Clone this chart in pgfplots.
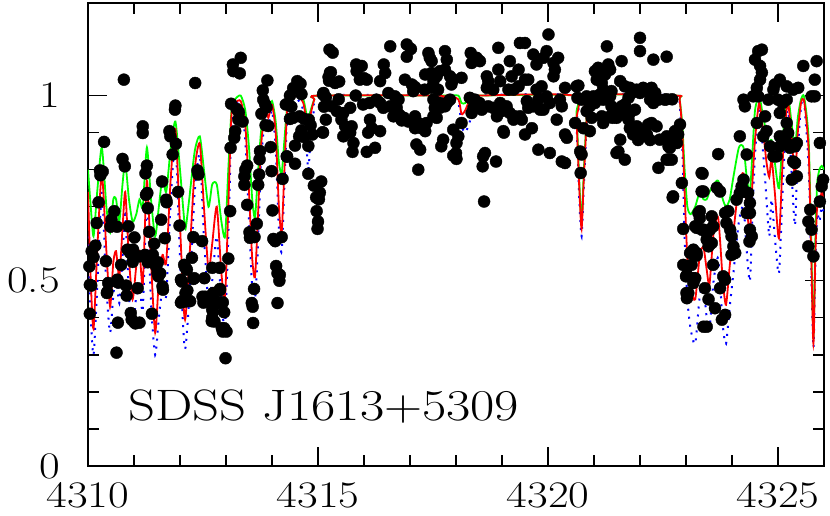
\documentclass[border=0pt]{standalone}
\usepackage{fontspec}
\setmainfont{Latin Modern Roman}[FakeStretch=1.2]
\usepackage{pgfplots}
\usepackage{pgfplotstable}
\pgfplotsset{compat=1.18}

% model curves: x, red model, green model, blue model
\pgfplotstableread{
x red green blue
4310.00 0.74 0.80 0.62
4310.06 0.50 0.70 0.40
4310.12 0.37 0.62 0.30
4310.20 0.58 0.74 0.48
4310.30 0.79 0.86 0.74
4310.40 0.58 0.70 0.48
4310.48 0.43 0.63 0.36
4310.55 0.55 0.72 0.46
4310.61 0.58 0.72 0.52
4310.68 0.51 0.66 0.44
4310.75 0.64 0.76 0.56
4310.81 0.74 0.82 0.68
4310.89 0.56 0.72 0.46
4310.97 0.45 0.66 0.37
4311.05 0.54 0.68 0.46
4311.12 0.58 0.72 0.50
4311.19 0.49 0.70 0.42
4311.28 0.77 0.86 0.72
4311.37 0.55 0.72 0.44
4311.46 0.36 0.62 0.30
4311.54 0.50 0.70 0.40
4311.62 0.57 0.78 0.48
4311.70 0.55 0.74 0.46
4311.80 0.78 0.86 0.72
4311.90 0.91 0.93 0.88
4312.00 0.65 0.80 0.56
4312.08 0.43 0.68 0.35
4312.12 0.40 0.64 0.32
4312.20 0.55 0.72 0.45
4312.32 0.80 0.85 0.74
4312.43 0.87 0.89 0.84
4312.52 0.70 0.80 0.62
4312.62 0.53 0.70 0.44
4312.70 0.60 0.76 0.50
4312.80 0.70 0.76 0.62
4312.90 0.52 0.66 0.44
4312.98 0.46 0.62 0.38
4313.05 0.70 0.80 0.62
4313.12 0.95 0.96 0.92
4313.20 0.98 0.99 0.97
4313.32 0.985 1.00 0.98
4313.42 0.92 0.96 0.88
4313.50 0.74 0.86 0.66
4313.57 0.56 0.72 0.48
4313.63 0.51 0.67 0.45
4313.69 0.66 0.78 0.58
4313.76 0.86 0.90 0.82
4313.85 0.96 0.97 0.94
4313.92 0.94 0.96 0.92
4314.00 0.975 0.985 0.96
4314.08 0.90 0.93 0.86
4314.15 0.70 0.82 0.64
4314.21 0.63 0.79 0.58
4314.27 0.80 0.88 0.76
4314.33 0.96 0.97 0.94
4314.42 0.99 0.995 0.98
4314.55 1.0 1.0 0.99
4314.68 0.98 0.99 0.96
4314.75 0.93 0.95 0.86
4314.79 0.915 0.94 0.80
4314.84 0.95 0.96 0.88
4314.92 0.99 0.99 0.97
4315.00 1.0 1.0 1.0
4317.60 1.0 1.0 1.0
4317.70 0.99 1.0 0.99
4317.80 1.0 1.0 1.0
4318.05 0.99 1.0 0.98
4318.12 0.95 0.98 0.92
4318.20 0.96 0.98 0.90
4318.30 0.99 1.0 0.93
4318.38 1.0 1.0 0.98
4318.45 1.0 1.0 1.0
4320.55 1.0 1.0 1.0
4320.62 0.93 0.95 0.92
4320.68 0.75 0.77 0.72
4320.73 0.64 0.66 0.62
4320.78 0.78 0.80 0.76
4320.84 0.93 0.94 0.92
4320.90 1.0 1.0 1.0
4322.78 1.0 1.0 1.0
4322.86 0.99 0.99 0.98
4322.92 0.90 0.92 0.86
4322.97 0.74 0.80 0.62
4323.03 0.56 0.70 0.45
4323.10 0.48 0.68 0.37
4323.20 0.45 0.70 0.33
4323.30 0.57 0.74 0.46
4323.38 0.59 0.72 0.48
4323.45 0.53 0.72 0.40
4323.51 0.49 0.74 0.37
4323.60 0.63 0.76 0.50
4323.70 0.67 0.77 0.56
4323.80 0.50 0.72 0.38
4323.87 0.435 0.70 0.33
4323.95 0.54 0.72 0.43
4324.03 0.63 0.78 0.52
4324.15 0.76 0.86 0.66
4324.25 0.79 0.86 0.70
4324.32 0.70 0.78 0.58
4324.39 0.63 0.74 0.50
4324.45 0.78 0.86 0.70
4324.50 0.88 0.96 0.84
4324.59 0.98 1.00 0.97
4324.68 0.90 0.94 0.84
4324.75 0.82 0.90 0.72
4324.81 0.78 0.87 0.62
4324.86 0.83 0.88 0.72
4324.93 0.74 0.82 0.62
4325.02 0.615 0.75 0.52
4325.10 0.82 0.88 0.74
4325.16 0.93 0.96 0.90
4325.22 0.98 1.00 0.97
4325.30 0.88 0.92 0.78
4325.37 0.78 0.86 0.65
4325.43 0.90 0.94 0.85
4325.50 0.98 0.99 0.97
4325.56 0.99 1.00 0.99
4325.62 0.93 0.95 0.90
4325.67 0.84 0.87 0.80
4325.72 0.58 0.62 0.55
4325.77 0.33 0.35 0.32
4325.81 0.56 0.60 0.54
4325.85 0.70 0.76 0.68
4325.90 0.70 0.80 0.66
4325.95 0.74 0.81 0.70
4326.00 0.71 0.80 0.68
}\models

% observed spectrum
\pgfplotstableread{
x y
4310.78 1.043
4312.33 1.034
4311.90 0.973
4311.89 0.962
4311.19 0.917
4311.19 0.899
4311.77 0.904
4311.79 0.890
4311.91 0.870
4311.84 0.841
4310.35 0.875
4310.75 0.829
4310.80 0.809
4310.26 0.798
4310.32 0.795
4310.27 0.785
4311.28 0.811
4311.25 0.790
4311.61 0.768
4312.38 0.798
4312.40 0.787
4310.23 0.712
4311.26 0.732
4311.29 0.737
4311.30 0.696
4311.70 0.719
4311.71 0.712
4311.96 0.740
4310.57 0.688
4310.19 0.656
4310.51 0.665
4310.49 0.646
4310.63 0.646
4310.88 0.647
4311.59 0.665
4311.99 0.649
4311.33 0.632
4311.01 0.617
4311.67 0.615
4312.29 0.618
4312.48 0.607
4310.16 0.595
4311.44 0.600
4310.86 0.584
4310.98 0.584
4310.92 0.575
4310.12 0.564
4311.12 0.566
4311.41 0.570
4310.39 0.553
4310.97 0.551
4312.26 0.562
4310.03 0.539
4311.44 0.549
4311.48 0.539
4310.72 0.543
4312.09 0.543
4312.12 0.535
4311.51 0.521
4311.53 0.512
4312.02 0.503
4312.31 0.507
4312.53 0.507
4310.64 0.503
4310.66 0.495
4310.07 0.487
4310.44 0.494
4310.83 0.487
4311.62 0.485
4311.63 0.476
4311.08 0.480
4310.41 0.467
4310.84 0.460
4312.12 0.467
4312.16 0.474
4312.02 0.441
4312.12 0.444
4312.16 0.446
4312.49 0.457
4312.51 0.441
4312.55 0.457
4312.70 0.422
4312.70 0.400
4312.69 0.391
4310.04 0.411
4310.93 0.413
4310.95 0.395
4311.00 0.389
4311.03 0.385
4311.39 0.411
4310.65 0.387
4310.62 0.306
4310.08 0.580
4310.04 0.489
4310.42 0.470
4310.62 0.498
4311.12 0.387
4311.57 0.520
4311.52 0.550
4311.24 0.570
4311.30 0.550
4312.04 0.498
4312.15 0.530
4312.04 0.445
4312.22 0.445
4312.29 0.505
4312.60 0.445
4312.72 0.417
4312.75 0.390
4312.83 0.440
4312.87 0.475
4312.92 0.440
4312.91 0.372
4312.96 0.372
4312.99 0.291
4312.70 0.535
4312.86 0.535
4313.05 0.560
4313.56 0.440
4313.59 0.386
4313.61 0.478
4314.09 0.540
4314.12 0.520
4314.12 0.440
4313.32 1.102
4313.15 1.084
4313.16 1.066
4313.30 1.060
4313.90 1.041
4313.80 1.014
4313.81 0.989
4313.11 0.978
4313.23 0.964
4313.28 0.955
4313.27 0.935
4313.36 0.930
4313.20 0.904
4313.18 0.886
4313.10 0.859
4313.77 0.951
4313.85 0.977
4313.88 0.968
4313.86 0.920
4313.92 0.918
4313.97 0.861
4313.74 0.850
4313.73 0.828
4313.99 0.796
4313.72 0.787
4313.70 0.759
4313.46 0.811
4313.42 0.800
4313.40 0.782
4313.40 0.759
4313.46 0.705
4313.09 0.688
4314.01 0.690
4313.67 0.654
4313.51 0.631
4313.52 0.616
4313.62 0.618
4314.03 0.613
4314.07 0.607
4314.21 0.618
4314.17 0.516
4314.16 0.500
4313.58 0.430
4312.87 0.478
4312.72 0.467
4312.79 0.445
4312.93 0.442
4312.96 0.415
4312.93 0.363
4313.01 0.363
4314.30 0.976
4314.39 1.000
4314.55 1.039
4314.62 1.032
4314.46 1.020
4314.64 1.004
4314.42 0.970
4314.39 0.937
4314.46 0.940
4314.60 0.944
4314.70 0.937
4314.80 0.935
4314.84 0.920
4314.64 0.906
4314.59 0.890
4314.70 0.888
4314.79 0.864
4314.88 0.895
4315.11 0.900
4315.17 0.935
4315.11 1.003
4315.17 0.995
4315.26 1.062
4315.25 1.124
4315.23 1.050
4315.13 0.970
4314.50 0.865
4314.50 0.816
4314.33 0.835
4314.79 0.789
4314.91 0.757
4315.07 0.768
4315.04 0.738
4314.96 0.725
4315.02 0.720
4314.97 0.688
4315.00 0.660
4314.99 0.640
4314.23 0.775
4314.32 0.836
4315.32 1.116
4315.28 1.063
4315.24 1.040
4315.37 1.034
4315.46 1.038
4315.45 0.990
4315.12 1.007
4315.30 0.971
4315.41 0.958
4315.55 0.953
4315.70 0.967
4315.10 0.901
4315.51 0.935
4315.59 0.917
4315.55 0.890
4315.70 0.900
4315.73 0.917
4315.77 0.872
4315.75 0.848
4315.83 1.084
4315.95 1.080
4315.84 1.066
4315.91 1.043
4315.82 1.000
4316.00 1.047
4316.06 1.043
4315.98 0.976
4316.12 0.980
4316.27 0.989
4316.35 0.980
4316.13 0.935
4316.17 0.912
4316.09 0.900
4316.35 0.904
4316.06 0.848
4316.24 0.859
4316.43 1.084
4316.46 1.061
4316.35 1.039
4316.53 1.007
4316.67 0.998
4316.75 0.989
4316.42 0.967
4316.57 0.971
4316.71 0.967
4316.64 0.944
4316.77 0.948
4316.87 0.940
4316.57 1.133
4316.93 1.138
4317.02 1.126
4316.93 1.105
4316.89 1.043
4317.04 1.030
4317.11 1.023
4317.07 1.012
4316.82 0.933
4316.96 0.930
4317.11 0.944
4317.18 0.926
4317.11 0.912
4317.25 0.912
4317.36 0.926
4317.33 0.904
4317.14 0.868
4317.22 0.854
4317.18 0.800
4317.33 1.057
4317.47 1.061
4317.51 1.039
4317.58 1.052
4317.40 1.115
4317.43 1.102
4317.47 1.093
4317.76 1.120
4317.80 1.097
4317.32 1.016
4317.47 1.021
4317.61 1.016
4317.65 1.066
4317.76 1.070
4317.87 1.052
4317.94 1.043
4317.90 1.030
4318.12 1.048
4317.51 0.989
4317.65 0.980
4317.80 0.980
4317.87 0.989
4317.54 0.967
4317.65 0.967
4317.76 0.971
4317.51 0.944
4317.58 0.940
4317.72 0.881
4317.68 0.863
4317.94 0.908
4318.05 0.890
4318.01 0.872
4318.00 0.845
4317.94 0.838
4318.01 0.829
4318.12 0.926
4318.59 0.836
4318.63 0.845
4318.58 0.809
4318.87 0.822
4318.61 0.714
4318.30 0.994
4318.41 0.989
4318.38 0.967
4318.34 0.953
4318.51 0.980
4318.56 0.962
4318.32 1.115
4318.45 1.102
4318.52 1.093
4318.34 1.088
4318.67 1.052
4318.70 1.039
4318.92 1.070
4318.96 1.039
4318.92 1.129
4318.67 1.021
4318.81 1.016
4318.70 0.971
4318.81 0.967
4318.96 0.980
4318.99 0.958
4318.89 0.944
4319.03 0.904
4319.04 0.900
4319.17 1.093
4319.21 1.052
4319.36 1.070
4319.39 1.142
4319.50 1.142
4319.14 1.016
4319.25 1.016
4319.36 1.025
4319.50 1.043
4319.57 1.043
4319.10 0.971
4319.17 0.953
4319.28 0.944
4319.39 0.944
4319.43 0.935
4319.25 0.935
4319.54 0.985
4319.57 0.967
4319.68 0.971
4319.79 0.989
4319.50 0.895
4319.65 0.912
4319.79 0.854
4320.04 0.845
4319.68 1.111
4319.75 1.084
4319.90 1.102
4319.97 1.120
4320.01 1.165
4320.12 1.088
4320.15 1.070
4320.22 1.102
4320.12 1.052
4319.86 1.025
4319.75 1.016
4319.97 0.998
4320.04 0.980
4319.83 0.962
4319.90 0.962
4320.37 1.021
4320.26 0.989
4320.30 0.971
4320.19 0.935
4320.37 0.895
4320.41 0.886
4320.30 0.822
4320.37 0.818
4320.59 0.926
4320.62 1.025
4320.66 1.027
4320.64 0.994
4320.73 0.989
4320.84 0.998
4320.91 0.985
4320.99 0.998
4320.91 0.971
4321.02 0.980
4320.84 0.958
4320.70 0.849
4320.73 0.841
4320.71 0.791
4320.77 0.912
4320.91 0.904
4320.95 0.940
4321.02 1.066
4321.09 1.075
4321.06 1.043
4321.17 1.034
4321.31 1.084
4321.35 1.070
4321.24 1.057
4321.28 1.133
4321.20 1.016
4321.38 1.012
4321.13 1.003
4321.35 0.998
4321.20 0.989
4321.17 0.944
4321.38 0.971
4321.46 0.962
4321.35 0.944
4321.20 0.926
4321.40 0.940
4321.60 1.093
4321.57 1.039
4321.67 1.025
4321.78 1.021
4321.82 1.007
4321.75 0.994
4321.93 1.016
4322.00 1.007
4322.07 1.021
4322.15 1.012
4322.25 1.021
4322.33 1.007
4322.22 0.989
4322.29 0.980
4322.40 0.989
4322.54 0.989
4321.60 0.971
4321.67 0.976
4321.57 0.948
4321.49 0.940
4321.78 0.953
4321.89 0.962
4321.75 0.935
4321.57 0.881
4321.53 0.849
4321.49 0.845
4321.67 0.827
4321.78 0.912
4321.93 0.917
4321.96 0.899
4321.85 0.895
4322.07 0.908
4322.15 0.895
4322.18 0.922
4322.25 0.926
4322.36 0.917
4322.00 0.890
4321.96 0.880
4322.15 0.890
4322.22 0.880
4322.00 1.156
4322.00 1.120
4322.29 1.097
4322.58 1.105
4322.40 0.805
4322.58 0.827
4322.69 0.827
4322.65 0.859
4322.43 0.881
4322.58 0.890
4322.69 0.877
4322.80 0.872
4322.62 0.863
4322.87 0.922
4322.76 0.904
4322.83 0.895
4322.58 0.990
4322.70 0.990
4322.91 0.764
4322.71 0.725
4322.94 0.640
4323.36 0.789
4323.34 0.741
4323.70 0.842
4323.67 0.751
4323.74 0.741
4323.27 0.683
4323.30 0.669
4323.20 0.647
4323.38 0.638
4323.45 0.629
4323.52 0.638
4323.56 0.674
4323.59 0.647
4323.45 0.611
4323.49 0.593
4323.56 0.602
4323.16 0.584
4323.23 0.575
4323.92 0.688
4323.85 0.683
4323.88 0.656
4323.96 0.638
4323.99 0.620
4324.03 0.593
4324.07 0.575
4324.10 0.719
4324.17 0.737
4324.21 0.755
4324.25 0.773
4324.28 0.741
4324.35 0.737
4324.39 0.710
4324.32 0.683
4324.39 0.683
4324.39 0.638
4324.43 0.620
4324.38 0.606
4324.17 0.890
4324.32 0.841
4324.25 0.989
4324.28 0.971
4324.46 0.998
4324.50 1.097
4324.57 1.120
4324.65 1.124
4324.54 1.021
4324.61 1.080
4324.65 1.062
4324.61 1.043
4324.57 0.998
4324.54 0.926
4324.68 0.890
4324.72 0.944
4324.75 0.904
4324.79 0.989
4324.93 1.030
4324.90 1.016
4324.83 0.863
4324.90 0.836
4324.97 0.836
4325.04 0.863
4325.04 0.890
4325.04 1.043
4325.19 1.025
4325.19 0.989
4325.33 1.016
4325.44 1.021
4325.00 0.989
4325.10 0.980
4325.04 0.953
4325.19 0.926
4325.22 0.899
4325.19 0.872
4325.15 0.872
4325.26 0.859
4325.37 0.863
4325.41 0.872
4325.33 0.822
4325.37 0.818
4325.30 0.773
4325.41 0.782
4325.55 1.080
4325.84 1.093
4325.80 1.043
4325.73 0.998
4325.80 0.998
4325.91 0.872
4325.98 0.773
4325.95 0.755
4325.91 0.714
4325.70 0.692
4325.66 0.660
4325.73 0.638
4325.66 0.593
4325.77 0.566
4322.94 0.543
4323.02 0.516
4323.05 0.467
4323.02 0.453
4323.12 0.543
4323.16 0.507
4323.16 0.494
4323.23 0.568
4323.41 0.480
4323.49 0.450
4323.63 0.426
4323.45 0.376
4323.59 0.543
4323.81 0.512
4323.85 0.503
4323.74 0.480
4323.78 0.395
4323.85 0.408
4323.99 0.570
4323.09 0.575
4323.20 0.570
4323.01 0.540
4323.00 0.512
4323.20 0.507
4323.01 0.467
4323.38 0.376
4323.30 0.688
4323.23 0.643
4323.34 0.638
4322.72 0.728
4322.62 0.827
4323.34 0.791
4323.38 0.741
}\spectrum

\begin{document}
\begin{tikzpicture}
\begin{axis}[
    scale only axis,
    width=736pt, height=463pt,
    xmin=4310, xmax=4326,
    ymin=0, ymax=1.25,
    xtick={4310,4315,4320,4325},
    ytick={0,0.5,1},
    minor x tick num=4,
    minor y tick num=4,
    major tick length=19pt,
    minor tick length=11pt,
    tick align=inside,
    xtick pos=both, ytick pos=both,
    axis line style={line width=1.5pt},
    every tick/.style={black, line width=1.3pt},
    /pgf/number format/assume math mode=true,
    /pgf/number format/1000 sep={},
    ticklabel style={font=\fontsize{37.5}{38}\selectfont},
    xticklabel style={anchor=north, inner sep=0pt},
    xticklabel shift=16pt,
    yticklabel style={anchor=east, inner sep=0pt},
    yticklabel shift=28pt,
    xticklabel pos=bottom, yticklabel pos=left,
]
\coordinate (ll) at (rel axis cs:0,0);
\coordinate (ur) at (rel axis cs:1,1);
\addplot[blue, line width=2pt, dash pattern=on 2pt off 6pt, smooth, tension=0.4]
    table[x=x, y=blue] {\models};
\addplot[green, line width=1.8pt, smooth, tension=0.4]
    table[x=x, y=green] {\models};
\addplot[red, line width=1.8pt, smooth, tension=0.4]
    table[x=x, y=red] {\models};
\addplot[only marks, mark=*, mark size=6pt, black]
    table[x=x, y=y] {\spectrum};
\node[anchor=base west, inner sep=0pt, font=\fontsize{44}{46}\selectfont]
    at (axis cs:4310.87,0.124) {SDSS J1613+5309};
\end{axis}
\pgfresetboundingbox
\path[use as bounding box] ([xshift=-88pt,yshift=-50pt]ll) rectangle ([xshift=6pt,yshift=3pt]ur);
\end{tikzpicture}
\end{document}
